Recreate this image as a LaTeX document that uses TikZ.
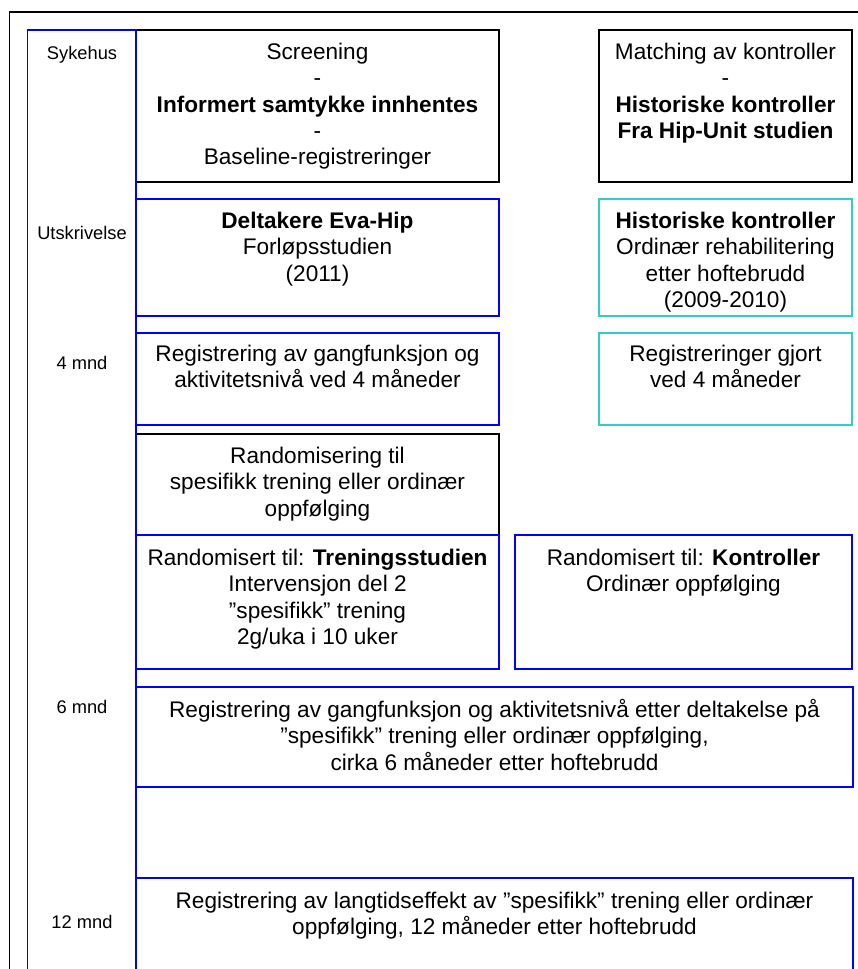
\documentclass[tikz,border=0pt]{standalone}
\usepackage{fontspec}
\setmainfont{Liberation Sans}
\usetikzlibrary{positioning}
\definecolor{tlblue}{RGB}{0,0,255}
\definecolor{ctrlcyan}{RGB}{51,204,204}

\begin{document}
\begin{tikzpicture}[
      x=1pt, y=-1pt,
      box/.style={rectangle, draw, line width=1.6pt, anchor=north west, outer sep=0pt, inner sep=0pt},
      blackbox/.style={box, draw=black},
      bluebox/.style={box, draw=tlblue},
      cyanbox/.style={box, draw=ctrlcyan},
      txt/.style={anchor=north, align=center, inner sep=0pt, font=\fontsize{22.6}{26.3}\selectfont},
      tlabel/.style={inner sep=0pt, font=\fontsize{18.3}{21}\selectfont}
    ]
    \useasboundingbox (0,0) rectangle (858,969);
    \clip (0,0) rectangle (858,969);

    % outer frame
    \coordinate (fbl) at (9.5,1000);
    \coordinate (ftr) at (900,12);
    \draw[line width=1.6pt] (fbl) |- (ftr);

    % sykehus
    \node[blackbox, minimum width=363, minimum height=152] (screen) at (136,30) {};
    \node[txt] (screentxt) at ([yshift=-13pt]screen.north) {Screening\\-\\\textbf{Informert samtykke innhentes}\\-\\Baseline-registreringer};
    \node[blackbox, minimum width=253, minimum height=152] (match) at (599,30) {};
    \node[txt] (matchtxt) at ([yshift=-13pt]match.north) {Matching av kontroller\\-\\\textbf{Historiske kontroller}\\\textbf{Fra Hip-Unit studien}};

    % utskrivelse
    \node[bluebox, minimum width=363, minimum height=117] (eva) at (136,199) {};
    \node[txt] (evatxt) at ([yshift=-13pt]eva.north) {\textbf{Deltakere Eva-Hip}\\Forløpsstudien\\(2011)};
    \node[cyanbox, minimum width=253, minimum height=117] (hist) at (599,199) {};
    \node[txt] (histtxt) at ([yshift=-13pt]hist.north) {\textbf{Historiske kontroller}\\Ordinær rehabilitering\\etter hoftebrudd\\(2009-2010)};

    % 4 mnd
    \node[bluebox, minimum width=363, minimum height=92] (reg4) at (136,333) {};
    \node[txt] (reg4txt) at ([yshift=-12pt]reg4.north) {Registrering av gangfunksjon og\\aktivitetsnivå ved 4 måneder};
    \node[cyanbox, minimum width=253, minimum height=92] (hist4) at (599,333) {};
    \node[txt] (hist4txt) at ([yshift=-12pt]hist4.north) {Registreringer gjort\\ved 4 måneder};

    % randomisering
    \node[blackbox, minimum width=363, minimum height=101] (rand) at (136,434) {};
    \node[txt] (randtxt) at ([yshift=-13pt]rand.north) {Randomisering til\\spesifikk trening eller ordinær\\oppfølging};
    \node[bluebox, minimum width=363, minimum height=134] (tren) at (136,535) {};
    \node[txt] (trentxt) at ([yshift=-14pt]tren.north) {Randomisert til: \textbf{Treningsstudien}\\Intervensjon del 2\\”spesifikk” trening\\2g/uka i 10 uker};
    \node[bluebox, minimum width=337, minimum height=134] (kontr) at (515,535) {};
    \node[txt] (kontrtxt) at ([yshift=-14pt]kontr.north) {Randomisert til: \textbf{Kontroller}\\Ordinær oppfølging};

    % 6 og 12 mnd
    \node[bluebox, minimum width=717, minimum height=100] (reg6) at (136,687) {};
    \node[txt] (reg6txt) at ([yshift=-12pt]reg6.north) {Registrering av gangfunksjon og aktivitetsnivå etter deltakelse på\\”spesifikk” trening eller ordinær oppfølging,\\cirka 6 måneder etter hoftebrudd};
    \node[bluebox, minimum width=717, minimum height=140] (reg12) at (136,878) {};
    \node[txt] (reg12txt) at ([yshift=-14pt]reg12.north) {Registrering av langtidseffekt av ”spesifikk” trening eller ordinær\\oppfølging, 12 måneder etter hoftebrudd};

    % tidslinje
    \node[bluebox, minimum width=108.5, minimum height=1000] (tline) at (27.5,30) {};
    \node[tlabel] (sykehus) at (82,55) {Sykehus};
    \node[tlabel] (utskr) at (82,233) {Utskrivelse};
    \node[tlabel] (m4) at (82,363) {4 mnd};
    \node[tlabel] (m6) at (82,707) {6 mnd};
    \node[tlabel] (m12) at (82,922) {12 mnd};
  \end{tikzpicture}
\end{document}
